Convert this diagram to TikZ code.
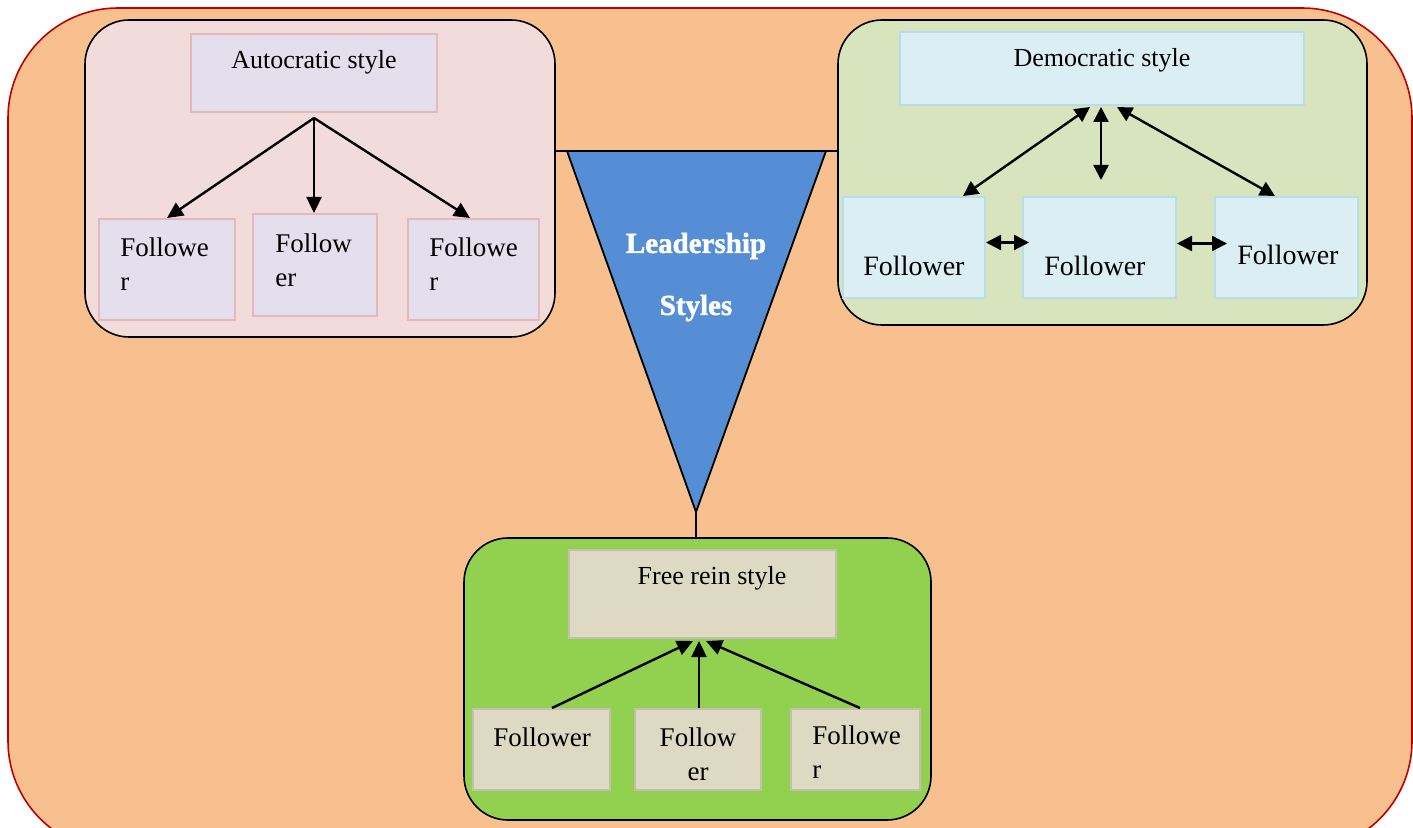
\documentclass[tikz,border=0pt]{standalone}
\usepackage{fontspec}
\setmainfont{Liberation Serif}
\newfontfamily\posterfont[FakeBold=1.6]{Liberation Serif Bold}
\usetikzlibrary{arrows.meta,calc}

\definecolor{peach}{HTML}{F8BF8F}
\definecolor{outeredge}{HTML}{C00000}
\definecolor{autobg}{HTML}{F2DCDB}
\definecolor{autocellbg}{HTML}{E4DFEC}
\definecolor{autoedge}{HTML}{E6B9B8}
\definecolor{demobg}{HTML}{D7E4BD}
\definecolor{democellbg}{HTML}{DBEEF4}
\definecolor{demoedge}{HTML}{B7DEE8}
\definecolor{freebg}{HTML}{92D050}
\definecolor{freecellbg}{HTML}{DDD9C3}
\definecolor{freeedge}{HTML}{C4C0B0}
\definecolor{tribg}{HTML}{558ED5}

\begin{document}
\begin{tikzpicture}[x=0.5pt,y=-0.5pt,
  grpbox/.style={draw=black, line width=0.8pt, rounded corners=22pt, inner sep=0pt},
  cellbox/.style={line width=1pt, inner sep=0pt},
  autocell/.style={cellbox, draw=autoedge, fill=autocellbg},
  democell/.style={cellbox, draw=demoedge, fill=democellbg},
  freecell/.style={cellbox, draw=freeedge, fill=freecellbg},
  ttl/.style={font=\fontsize{13}{16}\selectfont, inner sep=0pt},
  txt/.style={font=\fontsize{13.5}{17}\selectfont, inner sep=0pt, align=left, anchor=west},
  link/.style={draw=black, line width=0.9pt},
  arr/.style={line width=1.2pt, -{Triangle[length=8pt,width=7.5pt]}},
  darr/.style={line width=1.2pt, {Triangle[length=7.5pt,width=7.5pt]}-{Triangle[length=7.5pt,width=7.5pt]}}
]
\useasboundingbox (0,0) rectangle (1413,828);
\clip (0,0) rectangle (1413,828);

% background panel
\draw[fill=peach, draw=outeredge, line width=0.8pt, rounded corners=55pt] (8,8) rectangle (1412,851);

% group panels
\node[grpbox, fill=autobg, minimum width=235pt, minimum height=158.5pt] (auto) at (320,178.5) {};
\node[grpbox, fill=demobg, minimum width=264.5pt, minimum height=152.5pt] (demo) at (1102.5,172.5) {};
\node[grpbox, fill=freebg, minimum width=233.5pt, minimum height=141pt] (free) at (697.5,679) {};

% central funnel and its links
\coordinate (tl) at (567,151);
\coordinate (tr) at (826,151);
\coordinate (apex) at (696,512);
\draw[link] (auto.east |- tl) -- (demo.west |- tl);
\draw[link, fill=tribg] (tl) -- (tr) -- (apex) -- cycle;
\draw[link] (apex) -- (apex |- free.north);
\node[font=\fontsize{14.5}{31}\selectfont\posterfont, text=white, align=center, inner sep=0pt] (lead) at (696,277) {Leadership\\Styles};

% autocratic cells
\node[autocell, minimum width=123pt, minimum height=39pt] (auttitle) at (314,73) {};
\node[autocell, minimum width=68pt, minimum height=50.5pt] (af1) at (167,269.5) {};
\node[autocell, minimum width=62pt, minimum height=51pt] (af2) at (315,265) {};
\node[autocell, minimum width=65.5pt, minimum height=50.5pt] (af3) at (473.5,269.5) {};

% democratic cells
\node[democell, minimum width=202pt, minimum height=36.5pt] (demtitle) at (1102,68.5) {};
\node[democell, minimum width=71pt, minimum height=50.5pt] (df1) at (914,247.5) {};
\node[democell, minimum width=76.5pt, minimum height=50.5pt] (df2) at (1099.5,247.5) {};
\node[democell, minimum width=71.5pt, minimum height=50.5pt] (df3) at (1286.5,247.5) {};

% free rein cells
\node[freecell, minimum width=133.5pt, minimum height=44pt] (fretitle) at (702.5,594) {};
\node[freecell, minimum width=68.5pt, minimum height=40.5pt] (ff1) at (541.5,749.5) {};
\node[freecell, minimum width=63pt, minimum height=40.5pt] (ff2) at (698,749.5) {};
\node[freecell, minimum width=64.5pt, minimum height=40.5pt] (ff3) at (855.5,749.5) {};

% autocratic arrows: leader to followers
\coordinate (ahub) at ($(auttitle.south)+(0,5)$);
\draw[arr] (ahub) -- (af1.north);
\draw[arr] (ahub) -- (ahub |- af2.north);
\draw[arr] (ahub) -- ($(af3.north)+(-3.5,0)$);

% democratic arrows: two-way
\coordinate (dmid) at ($(demtitle.south)+(-1,74)$);
\draw[darr] ($(demtitle.south)+(-12,1)$) -- ($(df1.north east)+(-23,0)$);
\draw[darr] ($(demtitle.south)+(-1,1)$) -- (dmid);
\draw[darr] ($(demtitle.south)+(15,1)$) -- ($(df3.north)+(-11.5,0)$);
\draw[darr] ($(df1.east)+(0,-5)$) -- ($(df2.west)+(7,-5)$);
\draw[darr] ($(df2.east)+(0,-4)$) -- ($(df3.west)+(13,-4)$);

% free rein arrows: followers to leader
\draw[arr] ($(ff1.north)+(10.5,0)$) -- ($(fretitle.south)+(-9.5,2)$);
\draw[arr] ($(ff2.north)+(1,0)$) -- ($(ff2.north |- fretitle.south)+(1,2)$);
\draw[arr] ($(ff3.north)+(4.5,0)$) -- ($(fretitle.south)+(3.5,2)$);

% labels
\node[ttl] (tauto) at (314,62) {Autocratic style};
\node[txt] (taf1) at (120,264.5) {Followe\\r};
\node[txt] (taf2) at (275,260.5) {Follow\\er};
\node[txt] (taf3) at (429,264.5) {Followe\\r};

\node[ttl] (tdemo) at (1102,60) {Democratic style};
\node[txt, font=\fontsize{14}{17}\selectfont] (tdf1) at (863,266) {Follower};
\node[txt, font=\fontsize{14}{17}\selectfont] (tdf2) at (1044,266) {Follower};
\node[txt, font=\fontsize{14}{17}\selectfont] (tdf3) at (1237,255) {Follower};

\node[ttl] (tfree) at (712,578) {Free rein style};
\node[txt] (tff1) at (493,737) {Follower};
\node[txt, align=center, anchor=center] (tff2) at (698,754) {Follow\\er};
\node[txt] (tff3) at (812,752) {Followe\\r};
\end{tikzpicture}
\end{document}
